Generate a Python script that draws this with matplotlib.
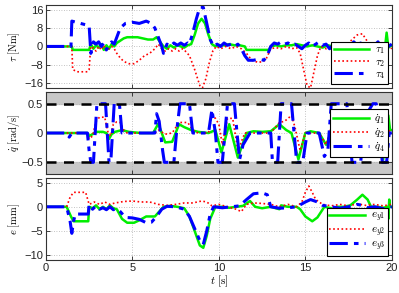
import numpy as np
import matplotlib
matplotlib.use("Agg")
import matplotlib.pyplot as plt

plt.rcParams['font.family'] = ['Liberation Sans', 'DejaVu Sans']
plt.rcParams['mathtext.fontset'] = 'cm'

# torque (t [s], tau [Nm])
tau1_pts = [(0, 0), (1.5, 0), (1.55, -1.5), (2.5, -1.5), (2.6, 1), (2.75, -1), (2.9, 0.5), (3.05, -0.5),
            (3.2, 1), (3.35, -1.5), (3.5, 0.5), (3.65, -1), (3.8, 1), (3.95, 0), (4.1, 1.5), (4.3, 2.5),
            (4.5, 3.5), (4.7, 4), (5.0, 4), (5.3, 4), (5.6, 3.5), (5.9, 3), (6.2, 3), (6.4, 4), (6.6, 2),
            (6.8, 0), (7.0, -1), (7.2, 0.5), (7.4, -0.5), (7.6, 0.5), (7.8, 0), (8.0, -0.5), (8.2, 0.5),
            (8.4, 1), (8.6, 5), (8.8, 10), (9.0, 12), (9.2, 10), (9.4, 5), (9.6, 1), (9.8, 0), (10.0, 0.5),
            (10.3, 0.5), (10.6, 1), (10.9, 0.5), (11.2, 0.5), (11.5, 0), (11.6, -1.5), (12.9, -1.5),
            (13.0, 0), (13.3, 0.5), (13.6, 0), (13.9, 0.5), (14.2, 0.5), (14.5, 1), (14.8, 0.5), (15.1, 0),
            (15.4, 0.5), (15.7, 0), (16.0, -0.5), (16.3, 0.5), (16.6, 0), (16.9, -0.5), (17.2, 0),
            (17.5, 0.5), (17.8, 0), (18.1, -0.5), (18.4, 0), (18.7, 0.5), (19.0, -0.5), (19.3, 0),
            (19.6, -1), (19.7, 6), (19.8, -0.5), (20, 0.5)]
tau2_pts = [(0, 0), (1.5, 0), (1.55, -10), (1.8, -11), (2.1, -11), (2.4, -11), (2.5, -10), (2.6, 1),
            (2.75, -1), (2.9, -2), (3.05, 0), (3.2, -1.5), (3.35, 0.5), (3.5, -2), (3.65, -1), (3.8, 0),
            (3.95, -1), (4.1, -3), (4.3, -5), (4.5, -6.5), (4.8, -7.5), (5.1, -7.5), (5.4, -6), (5.7, -4),
            (6.0, -3), (6.3, -1), (6.5, 1), (6.7, -1), (6.9, -2), (7.1, -1), (7.3, -2), (7.5, -1),
            (7.7, -2), (7.9, -1), (8.0, -1.5), (8.3, -4), (8.6, -10), (8.9, -17), (9.05, -18),
            (9.25, -14), (9.45, -7), (9.65, -2), (9.85, 0), (10.1, -1), (10.4, 0), (10.7, -1), (11.0, 0),
            (11.3, -1), (11.6, -3), (11.9, -6), (12.3, -7), (12.7, -6), (13.0, -1), (13.3, -0.5),
            (13.6, -1), (13.9, 0), (14.2, -1), (14.5, -0.5), (14.7, -3), (14.9, -10), (15.1, -17),
            (15.3, -18), (15.5, -11), (15.7, -4), (15.9, 0), (16.2, -1), (16.5, 0), (16.8, -1), (17.1, 0),
            (17.4, 0.5), (17.7, 3), (18.0, 5), (18.3, 5.5), (18.6, 2), (18.8, -3), (19.0, -6), (19.3, -5),
            (19.6, -2), (19.8, 0), (20, -1)]
tau4_pts = [(0, 0), (1.45, 0), (1.5, 11), (2.0, 10), (2.5, 9), (2.6, -3), (2.75, 2), (2.9, 1), (3.05, 2),
            (3.2, 0), (3.35, 1.5), (3.5, -1.5), (3.65, 1), (3.8, 2), (3.95, 1), (4.1, 4), (4.3, 8),
            (4.6, 10), (5.0, 10.5), (5.4, 10), (5.8, 11), (6.1, 10), (6.3, 8), (6.5, 4), (6.7, 0),
            (6.8, -3), (7.0, 1), (7.2, 0), (7.4, 1.5), (7.6, 0.5), (7.8, 1.5), (8.0, 0.5), (8.2, 1.5),
            (8.3, 1), (8.5, 6), (8.7, 12), (8.9, 17), (9.1, 17), (9.3, 10), (9.5, 3), (9.7, 0), (9.9, 1),
            (10.1, 0), (10.3, 1.5), (10.5, 0.5), (10.7, 1), (10.9, 0), (11.1, 1), (11.3, -1), (11.5, -4),
            (11.7, -6), (12.0, -6), (12.3, -5.5), (12.6, -6), (12.8, -4), (13.0, 0), (13.2, 1.5),
            (13.4, 1), (13.6, 2), (13.8, 1), (14.0, 1.5), (14.2, 0.5), (14.4, 1), (14.6, 0), (14.8, -1),
            (15.0, 0.5), (15.2, 1.5), (15.4, 0), (15.6, 1), (15.8, 2), (16.0, 0.5), (16.2, 1), (16.4, -1),
            (16.6, 0.5), (16.8, 0), (17.0, 1), (17.2, -0.5), (17.4, 1), (17.6, 0), (17.8, 2), (18.0, 0.5),
            (18.2, 1.5), (18.4, -0.5), (18.6, 1), (18.8, -1.5), (19.0, 0.5), (19.2, 2), (19.4, -0.5),
            (19.6, 1), (19.8, 0), (20, 1)]

# joint velocities (t [s], qdot [rad/s])
q1_pts = [(0, 0), (2.4, 0), (2.5, -0.05), (2.7, -0.02), (2.9, 0.02), (3.3, 0.02), (3.5, 0), (3.65, -0.1),
          (3.8, -0.02), (4.0, 0.02), (4.4, 0.05), (4.8, 0.02), (5.5, 0), (6.2, 0), (6.5, 0.16),
          (6.9, -0.16), (7.3, -0.15), (7.7, 0.15), (8.0, 0.1), (8.4, 0.05), (8.8, 0.02), (9.4, 0),
          (9.8, 0.05), (10.15, -0.33), (10.6, 0.15), (11.1, -0.42), (11.6, 0), (12.0, 0.03), (12.5, 0.02),
          (13.0, 0.03), (13.5, 0.15), (13.9, 0.05), (14.2, 0.0), (14.6, -0.45), (15.0, 0), (15.3, 0.03),
          (15.8, 0), (16.2, -0.2), (16.5, 0), (17.0, 0.02), (17.5, 0), (18.0, 0.03), (18.5, 0),
          (19.0, 0.02), (19.3, 0), (19.5, -0.45), (19.7, 0.05), (19.8, 0.3), (19.9, 0.05), (20, 0.05)]
q2_pts = [(0, 0), (2.4, 0), (2.5, -0.1), (2.7, -0.05), (2.9, 0.2), (3.1, 0.27), (3.4, 0.27), (3.6, 0),
          (3.75, -0.05), (3.9, 0.15), (4.1, 0.19), (4.3, 0.18), (4.5, 0.05), (4.7, 0), (6.3, 0),
          (6.5, 0.05), (6.9, -0.02), (7.3, 0), (7.7, 0.18), (8.2, 0.18), (8.5, 0.05), (8.8, 0), (9.4, 0),
          (9.6, 0.3), (9.8, 0.25), (10.0, 0.15), (10.2, -0.2), (10.5, 0.25), (10.8, 0.25), (11.1, -0.3),
          (11.5, 0), (13.0, 0), (13.5, 0.18), (13.8, 0.2), (14.2, 0.3), (14.4, 0.1), (14.7, -0.3),
          (15.0, 0), (15.8, 0), (16.2, -0.2), (16.6, 0.2), (17.4, 0.25), (17.7, -0.2), (18.2, -0.25),
          (18.8, 0.2), (19.1, 0.2), (19.5, -0.3), (19.8, 0.05), (20, 0)]
q4_pts = [(0, 0), (1.2, 0), (1.35, -0.07), (1.5, 0), (2.4, 0), (2.5, -0.3), (2.6, -0.5), (2.75, -0.5),
          (2.85, 0), (2.95, 0.5), (3.45, 0.5), (3.55, 0), (3.65, -0.5), (3.75, -0.5), (3.85, 0),
          (3.95, 0.5), (4.25, 0.5), (4.4, 0), (6.3, 0), (6.4, 0.33), (6.55, 0.2), (6.75, -0.3),
          (6.85, -0.5), (7.4, -0.5), (7.55, 0), (7.75, 0.5), (8.3, 0.5), (8.45, 0.1), (8.5, 0), (9.4, 0),
          (9.6, 0.4), (9.8, 0), (9.95, -0.5), (10.2, -0.5), (10.35, 0), (10.5, 0.5), (10.9, 0.5),
          (11.05, 0), (11.2, -0.45), (11.4, -0.2), (11.8, 0), (13.0, 0), (13.1, -0.5), (13.4, -0.5),
          (13.5, 0), (13.6, 0.5), (14.2, 0.5), (14.35, 0), (14.5, -0.5), (14.85, -0.5), (15.1, 0),
          (15.8, 0), (16.1, -0.4), (16.3, -0.3), (16.5, 0.5), (17.4, 0.5), (17.55, 0), (17.7, -0.5),
          (18.2, -0.5), (18.35, 0), (18.5, 0.3), (18.9, 0.5), (19.1, 0.5), (19.3, 0), (19.45, -0.5),
          (19.7, -0.5), (19.85, 0), (20, 0)]
qdot_limit = 0.5

# tracking errors (t [s], e [mm])
ey1_pts = [(0, 0), (1.2, 0), (1.45, -2), (1.6, -3), (2.45, -3), (2.5, 0), (2.7, -0.3), (2.9, 0.3),
           (3.1, -0.5), (3.3, 0), (3.5, -0.5), (3.7, 0.3), (3.9, -0.3), (4.1, -0.5), (4.4, -2.5),
           (4.7, -3.3), (5.1, -3.3), (5.4, -2.8), (5.8, -2), (6.3, -2), (6.6, -0.8), (6.8, 0), (7.2, 0.2),
           (7.6, 0), (8.0, -0.3), (8.3, -2), (8.6, -5), (8.9, -8), (9.1, -8.5), (9.3, -6), (9.5, -2.5),
           (9.8, 0), (10.2, 0), (10.6, -0.2), (11.0, 0), (11.4, 0.2), (11.8, 1.2), (12.1, 0), (12.5, -0.3),
           (13.0, 0), (13.5, -0.5), (13.6, 0.3), (14.0, 0), (14.5, 0), (14.7, -0.5), (15.0, -2),
           (15.4, -3), (15.7, -2.2), (16.1, 0), (16.5, -0.3), (16.7, -1), (16.8, 0), (17.2, 0),
           (17.6, 0.3), (18.0, 1.5), (18.3, 2.5), (18.6, 1.5), (18.8, 0), (19.2, 0), (19.5, -0.2),
           (19.75, 0), (19.8, -2.5), (19.85, 1.5), (19.9, 0), (20, 0)]
ey2_pts = [(0, 0), (1.2, 0), (1.4, 2), (1.6, 3), (2.3, 3), (2.5, 0.5), (2.8, 1), (3.1, 0.5), (3.4, 1),
           (3.7, 0.5), (4.0, 0.8), (4.5, 1.1), (5.0, 1.2), (5.5, 1), (6.0, 1), (6.5, 0.5), (7.0, 0.3),
           (7.5, 0.5), (8.0, 0.8), (8.5, 0.8), (9.0, 1.2), (9.3, 1.0), (9.6, 0.2), (10.0, 0.5), (10.5, 0),
           (11.0, -0.5), (11.3, -1), (11.6, 0.5), (12.0, 0.8), (12.5, 0.7), (13.0, 0.5), (13.5, 0),
           (14.0, 0.5), (14.5, 0), (14.8, 1), (15.0, 3), (15.2, 4.3), (15.4, 3), (15.6, 1.5), (16.0, 0.5),
           (16.5, 0.2), (17.0, 0.5), (17.5, 0.2), (18.0, 0.6), (18.5, 0.3), (19.0, 0.5), (19.5, 0.2),
           (20, 0.5)]
ey3_pts = [(0, 0), (1.2, 0), (1.4, -3), (1.5, -5.5), (1.6, -3), (1.7, -1.5), (2.45, -1.5), (2.5, 0.5),
           (2.7, -0.5), (2.9, 0.2), (3.1, -0.5), (3.3, -0.2), (3.5, -0.6), (3.7, 0), (3.9, -0.6),
           (4.1, -0.4), (4.3, -1), (4.6, -2.2), (5.0, -2.3), (5.4, -2.6), (5.8, -3.3), (6.1, -3.2),
           (6.4, -2), (6.7, -0.5), (7.0, 0.1), (7.5, 0), (8.0, -0.5), (8.3, -2), (8.6, -4.5), (8.9, -7),
           (9.1, -7.8), (9.3, -5), (9.5, -1.5), (9.7, 0), (10.2, -0.2), (10.7, 0), (11.2, 0.2),
           (11.6, 1.5), (12.0, 2.7), (12.5, 2.9), (12.8, 2.5), (13.0, 0), (13.5, -0.3), (14.0, -0.2),
           (14.5, 0), (15.0, 1), (15.3, 1.5), (15.7, 1), (16.0, 0.3), (16.5, 0), (17.0, -0.3), (17.5, 0),
           (18.0, 0.5), (18.3, 0.3), (18.6, -0.2), (19.0, 0), (19.5, -0.4), (20, 0)]

green = '#00ee00'
red = '#ff0000'
blue = '#0000ff'
styles = [dict(color=green, lw=1.8, ls='-'),
          dict(color=red, lw=1.2, ls=(0, (1, 1.5))),
          dict(color=blue, lw=2.2, ls=(0, (6, 2, 1.5, 2)))]


def plot_panel(ax, series, labels):
    for pts, st, lab in zip(series, styles, labels):
        arr = np.array(pts)
        ax.plot(arr[:, 0], arr[:, 1], label=lab, **st)


def style_axes(ax):
    ax.set_xlim(0, 20)
    ax.set_xticks([0, 5, 10, 15, 20])
    ax.grid(True, color='#b0b0b0', ls=(0, (1, 2)), lw=0.6)
    ax.tick_params(direction='in', top=True, right=True, length=3, width=0.6,
                   labelsize=8, colors='#222222', pad=2)
    for s in ax.spines.values():
        s.set_color('#333333')
        s.set_linewidth(0.8)
    ax.yaxis.set_label_coords(-0.07, 0.5)


fig = plt.figure(figsize=(3.99, 2.93), dpi=100)
ax1 = fig.add_axes([0.115, 0.70, 0.867, 0.283])
ax2 = fig.add_axes([0.115, 0.406, 0.867, 0.28])
ax3 = fig.add_axes([0.115, 0.113, 0.867, 0.28])

leg_kw = dict(fontsize=8, frameon=True, fancybox=False, edgecolor='black', framealpha=1,
              handlelength=3.2, labelspacing=0.05, borderpad=0.25, handletextpad=0.5,
              borderaxespad=0.35)

plot_panel(ax1, [tau1_pts, tau2_pts, tau4_pts], [r'$\tau_1$', r'$\tau_2$', r'$\tau_4$'])
style_axes(ax1)
ax1.set_ylim(-18, 18)
ax1.set_yticks([-16, -8, 0, 8, 16])
ax1.tick_params(labelbottom=False)
ax1.set_ylabel(r'$\tau\ [\mathrm{Nm}]$', fontsize=7.5)
l1 = ax1.legend(loc='lower right', **leg_kw)
l1.get_frame().set_linewidth(0.8)

ax2.axhspan(qdot_limit, 0.7, color='#c8c8c8', zorder=0)
ax2.axhspan(-0.7, -qdot_limit, color='#c8c8c8', zorder=0)
plot_panel(ax2, [q1_pts, q2_pts, q4_pts], [r'$\dot{q}_1$', r'$\dot{q}_2$', r'$\dot{q}_4$'])
ax2.axhline(qdot_limit, color='black', lw=1.8, ls=(0, (4, 3)))
ax2.axhline(-qdot_limit, color='black', lw=1.8, ls=(0, (4, 3)))
style_axes(ax2)
ax2.set_ylim(-0.7, 0.7)
ax2.set_yticks([-0.5, 0, 0.5])
ax2.set_yticklabels(['\u22120.5', '0', '0.5'])
ax2.tick_params(labelbottom=False)
ax2.set_ylabel(r'$\dot{q}\ [\mathrm{rad/s}]$', fontsize=7.5)
l2 = ax2.legend(loc='center right', **leg_kw)
l2.get_frame().set_linewidth(0.8)

plot_panel(ax3, [ey1_pts, ey2_pts, ey3_pts], [r'$e_{y1}$', r'$e_{y2}$', r'$e_{y3}$'])
style_axes(ax3)
ax3.set_ylim(-11, 6)
ax3.set_yticks([-10, -5, 0, 5])
ax3.set_ylabel(r'$e\ [\mathrm{mm}]$', fontsize=7.5)
ax3.set_xlabel(r'$t\ [\mathrm{s}]$', fontsize=8, labelpad=1)
l3 = ax3.legend(loc='lower right', **leg_kw)
l3.get_frame().set_linewidth(0.8)

fig.savefig('out.png', dpi=100)
